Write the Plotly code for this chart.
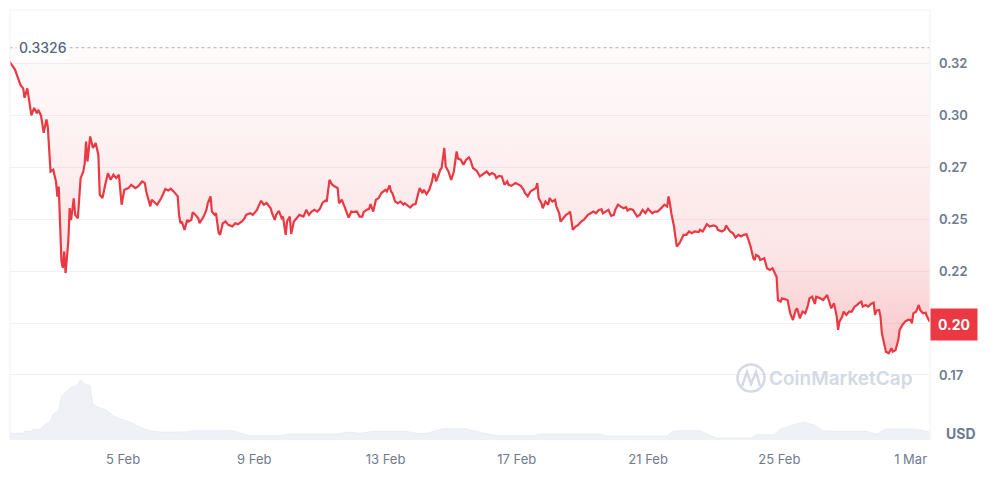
import pandas as pd
import plotly.graph_objects as go

# ---- data ----
start = pd.Timestamp("2025-02-01 00:00")

price_hours = [13, 17, 21, 23, 24, 26, 29, 31, 33, 34, 36, 38, 40, 41, 43, 45, 47, 48, 49, 51, 52, 53, 54, 56, 57, 58, 60, 61, 63, 65, 67, 68, 69, 70, 72, 74, 76, 78, 79, 81, 83, 85, 87, 89, 91, 93, 95, 97, 100, 102, 105, 107, 110, 112, 113, 116, 117, 121, 124, 127, 129, 131, 133, 135, 136, 137, 138, 139, 141, 143, 144, 146, 147, 149, 151, 152, 155, 157, 158, 160, 161, 163, 164, 166, 167, 169, 171, 173, 176, 178, 180, 183, 185, 186, 189, 191, 194, 195, 197, 199, 201, 204, 205, 207, 208, 210, 212, 213, 215, 216, 218, 219, 221, 223, 225, 228, 230, 232, 234, 236, 238, 240, 242, 244, 245, 247, 249, 251, 253, 254, 256, 258, 260, 261, 263, 264, 267, 269, 271, 272, 274, 276, 277, 279, 281, 283, 285, 288, 289, 291, 292, 293, 295, 297, 299, 301, 302, 304, 306, 308, 310, 312, 313, 315, 316, 318, 320, 322, 323, 324, 325, 327, 328, 329, 331, 332, 334, 336, 338, 340, 341, 343, 345, 347, 349, 350, 352, 353, 355, 357, 359, 362, 364, 366, 368, 369, 371, 373, 375, 377, 378, 380, 383, 385, 387, 389, 390, 392, 394, 396, 398, 399, 400, 402, 403, 405, 407, 408, 410, 412, 413, 415, 416, 418, 420, 422, 423, 425, 427, 429, 431, 433, 434, 436, 438, 440, 442, 444, 446, 447, 449, 451, 453, 455, 456, 458, 460, 462, 464, 465, 467, 469, 472, 474, 476, 478, 480, 483, 485, 487, 490, 492, 494, 495, 496, 497, 499, 500, 501, 503, 505, 506, 508, 510, 512, 514, 517, 518, 520, 522, 523, 525, 528, 530, 531, 534, 536, 537, 539, 540, 542, 544, 546, 548, 550, 552, 553, 555, 557, 558, 559, 561, 562, 564, 565, 567, 569, 571, 573, 574, 575, 577, 578, 580, 582, 584, 585, 586, 588, 589, 591, 593, 595, 597, 598, 600, 602, 603, 606, 608, 611, 612, 614, 616, 618, 619, 620, 622, 623, 625, 627, 629, 631, 633, 634, 636, 637, 639, 641, 643, 645, 646, 647, 649, 650, 651, 653, 654, 656, 658, 659, 661, 663, 664, 666, 668, 670, 672, 673, 674, 676, 678, 679, 681, 683, 684, 686]

price_usd = [0.3259, 0.3221, 0.3147, 0.3130, 0.3085, 0.3130, 0.3000, 0.3036, 0.3010, 0.3027, 0.3000, 0.2916, 0.2980, 0.2946, 0.2730, 0.2738, 0.2681, 0.2609, 0.2657, 0.2296, 0.2266, 0.2344, 0.2241, 0.2392, 0.2554, 0.2496, 0.2601, 0.2521, 0.2505, 0.2698, 0.2730, 0.2770, 0.2874, 0.2778, 0.2899, 0.2843, 0.2867, 0.2810, 0.2618, 0.2602, 0.2666, 0.2722, 0.2690, 0.2714, 0.2698, 0.2714, 0.2570, 0.2642, 0.2650, 0.2666, 0.2650, 0.2658, 0.2682, 0.2674, 0.2634, 0.2562, 0.2594, 0.2570, 0.2602, 0.2645, 0.2638, 0.2647, 0.2634, 0.2618, 0.2610, 0.2521, 0.2481, 0.2489, 0.2449, 0.2497, 0.2489, 0.2497, 0.2534, 0.2521, 0.2505, 0.2481, 0.2513, 0.2545, 0.2577, 0.2610, 0.2537, 0.2521, 0.2529, 0.2433, 0.2425, 0.2481, 0.2489, 0.2473, 0.2465, 0.2481, 0.2476, 0.2489, 0.2505, 0.2521, 0.2529, 0.2521, 0.2545, 0.2561, 0.2589, 0.2570, 0.2578, 0.2553, 0.2529, 0.2497, 0.2521, 0.2540, 0.2505, 0.2513, 0.2425, 0.2489, 0.2513, 0.2429, 0.2489, 0.2505, 0.2521, 0.2513, 0.2545, 0.2521, 0.2537, 0.2545, 0.2537, 0.2550, 0.2580, 0.2590, 0.2585, 0.2690, 0.2666, 0.2658, 0.2650, 0.2577, 0.2594, 0.2561, 0.2521, 0.2508, 0.2537, 0.2534, 0.2537, 0.2513, 0.2513, 0.2534, 0.2545, 0.2550, 0.2573, 0.2537, 0.2594, 0.2602, 0.2626, 0.2642, 0.2634, 0.2663, 0.2634, 0.2626, 0.2585, 0.2577, 0.2585, 0.2570, 0.2577, 0.2566, 0.2556, 0.2570, 0.2573, 0.2626, 0.2650, 0.2626, 0.2642, 0.2621, 0.2642, 0.2682, 0.2717, 0.2714, 0.2682, 0.2717, 0.2738, 0.2746, 0.2843, 0.2754, 0.2730, 0.2690, 0.2730, 0.2827, 0.2792, 0.2787, 0.2763, 0.2787, 0.2798, 0.2787, 0.2746, 0.2742, 0.2730, 0.2706, 0.2714, 0.2730, 0.2714, 0.2722, 0.2714, 0.2698, 0.2709, 0.2706, 0.2666, 0.2682, 0.2666, 0.2661, 0.2674, 0.2666, 0.2661, 0.2642, 0.2626, 0.2610, 0.2634, 0.2642, 0.2650, 0.2674, 0.2602, 0.2577, 0.2553, 0.2585, 0.2570, 0.2602, 0.2585, 0.2594, 0.2561, 0.2529, 0.2489, 0.2505, 0.2521, 0.2529, 0.2537, 0.2449, 0.2465, 0.2473, 0.2489, 0.2497, 0.2505, 0.2521, 0.2529, 0.2537, 0.2529, 0.2545, 0.2548, 0.2529, 0.2537, 0.2545, 0.2516, 0.2521, 0.2545, 0.2570, 0.2561, 0.2553, 0.2558, 0.2542, 0.2550, 0.2545, 0.2513, 0.2521, 0.2545, 0.2529, 0.2550, 0.2529, 0.2537, 0.2537, 0.2556, 0.2570, 0.2561, 0.2610, 0.2577, 0.2529, 0.2465, 0.2425, 0.2368, 0.2385, 0.2409, 0.2425, 0.2425, 0.2441, 0.2433, 0.2441, 0.2438, 0.2449, 0.2441, 0.2465, 0.2476, 0.2465, 0.2470, 0.2465, 0.2449, 0.2441, 0.2449, 0.2470, 0.2449, 0.2441, 0.2433, 0.2412, 0.2425, 0.2417, 0.2425, 0.2428, 0.2409, 0.2368, 0.2312, 0.2304, 0.2328, 0.2320, 0.2304, 0.2312, 0.2312, 0.2264, 0.2256, 0.2264, 0.2232, 0.2223, 0.2111, 0.2103, 0.2119, 0.2115, 0.2111, 0.2047, 0.2031, 0.2015, 0.2063, 0.2071, 0.2023, 0.2055, 0.2047, 0.2087, 0.2119, 0.2127, 0.2092, 0.2127, 0.2119, 0.2111, 0.2135, 0.2111, 0.2071, 0.2095, 0.2031, 0.1967, 0.2007, 0.2031, 0.2055, 0.2039, 0.2055, 0.2055, 0.2079, 0.2087, 0.2095, 0.2103, 0.2079, 0.2087, 0.2079, 0.2092, 0.2098, 0.2039, 0.2060, 0.2063, 0.2031, 0.1951, 0.1895, 0.1862, 0.1855, 0.1879, 0.1862, 0.1870, 0.1918, 0.1967, 0.1991, 0.2007, 0.2015, 0.2015, 0.1999, 0.2047, 0.2055, 0.2087, 0.2063, 0.2047, 0.2050, 0.2031, 0.2007]

volume_hours = [13, 23, 24, 29, 30, 35, 38, 43, 45, 49, 51, 55, 58, 62, 65, 68, 72, 74, 78, 84, 89, 94, 99, 104, 108, 113, 118, 123, 133, 138, 143, 147, 177, 182, 189, 211, 216, 250, 262, 269, 279, 303, 311, 318, 323, 330, 347, 352, 360, 372, 396, 401, 445, 450, 494, 498, 503, 518, 528, 530, 555, 559, 572, 577, 586, 594, 601, 608, 615, 640, 647, 654, 676, 684, 686]
volume_musd = [6.7, 6.7, 8.7, 8.7, 10.7, 10.7, 14.3, 19.3, 26, 29, 44, 49, 52.7, 54.3, 60, 56, 54.3, 36, 32.7, 30, 24.3, 21, 19.3, 16, 13.3, 10.3, 8.7, 8, 8, 8.3, 8.3, 9.3, 9.3, 6.7, 4.3, 4.3, 6, 6, 8, 6.7, 8.7, 8.7, 6.7, 6.7, 8.7, 11.3, 11.3, 9.3, 6.7, 4.3, 4.3, 6, 6, 4, 4, 8.7, 9.3, 9.3, 3.3, 2, 2, 5.3, 5.3, 11, 15.3, 17.7, 15.3, 9.3, 8.7, 8.7, 6, 11, 11, 8.7, 8]

all_time_ref = 0.3326
last_price_label = "0.20"
tick_vals = [0.175, 0.2, 0.225, 0.25, 0.275, 0.3, 0.325]
tick_text = ["0.17", "", "0.22", "0.25", "0.27", "0.30", "0.32"]  # 0.20 shown in the badge
date_ticks_start = "2025-02-01"

# ---- build ----
price_t = [start + pd.Timedelta(hours=h) for h in price_hours]
vol_t = [start + pd.Timedelta(hours=h) for h in volume_hours]

RED = "#ea3943"
GRAY = "#58667e"
TICK = "#6f7a8e"
FONT = "Inter, Roboto, sans-serif"

fig = go.Figure()

# volume area (bottom)
fig.add_trace(go.Scatter(
    x=vol_t, y=volume_musd, yaxis="y2", mode="lines",
    line=dict(width=0.5, color="rgba(220,225,234,0.9)"),
    fill="tozeroy", fillcolor="rgba(226,230,238,0.55)",
    hoverinfo="skip", showlegend=False,
))

# reference (top) line used as fill boundary
fig.add_trace(go.Scatter(
    x=[price_t[0], price_t[-1]], y=[all_time_ref, all_time_ref],
    mode="lines", line=dict(width=1, color="#a6b0c3", dash="dot"),
    hoverinfo="skip", showlegend=False,
))

# price line with gradient fill up to reference
fig.add_trace(go.Scatter(
    x=price_t, y=price_usd, mode="lines",
    line=dict(color=RED, width=2.2),
    fill="tonexty",
    fillgradient=dict(
        type="vertical",
        start=0.18, stop=all_time_ref,
        colorscale=[[0, "rgba(234,57,67,0.30)"],
                    [0.35, "rgba(234,57,67,0.13)"],
                    [1, "rgba(234,57,67,0.02)"]],
    ),
    showlegend=False,
))

x_lo = start + pd.Timedelta(hours=13.36)
x_hi = start + pd.Timedelta(hours=686.2)

fig.update_layout(
    width=1002, height=478,
    margin=dict(l=10, r=72, t=10, b=38, autoexpand=False),
    paper_bgcolor="white", plot_bgcolor="white",
    font=dict(family=FONT, color=GRAY),
    xaxis=dict(
        type="date", range=[x_lo, x_hi],
        tick0=date_ticks_start, dtick=4 * 86400000,
        tickformat="%-d %b", showgrid=False, zeroline=False,
        ticks="", ticklabelstandoff=10,
        tickfont=dict(size=13, color=TICK, family=FONT),
        showline=False,
    ),
    yaxis=dict(
        side="right", range=[0.14369, 0.35077],
        tickvals=tick_vals, ticktext=tick_text,
        showgrid=True, gridcolor="#eff2f5", gridwidth=1,
        zeroline=False, ticks="", ticklabelstandoff=8,
        tickfont=dict(size=13, color=TICK, family=FONT, weight=600),
    ),
    yaxis2=dict(
        overlaying="y", range=[0, 430], visible=False,
    ),
    hovermode=False,
)

# frame lines (left, right, top)
fig.add_shape(type="line", xref="paper", yref="paper", x0=0, x1=0, y0=0, y1=1,
              line=dict(color="#eff2f5", width=1))
fig.add_shape(type="line", xref="paper", yref="paper", x0=1, x1=1, y0=0, y1=1,
              line=dict(color="#eff2f5", width=1))
fig.add_shape(type="line", xref="paper", yref="paper", x0=0, x1=1, y0=1, y1=1,
              line=dict(color="#eff2f5", width=1))

# reference label
fig.add_annotation(x=0.007, xref="paper", y=all_time_ref, yref="y",
                   text="0.3326", showarrow=False, xanchor="left", yanchor="middle",
                   bgcolor="white", borderpad=2,
                   font=dict(size=14, color=GRAY, family=FONT, weight=500))

# last price badge
fig.add_annotation(x=1.0, xref="paper", y=price_usd[-1] - 0.0012, yref="y",
                   text="<b>" + last_price_label + "</b>", showarrow=False,
                   xanchor="left", yanchor="middle", bgcolor=RED, borderpad=7,
                   font=dict(size=14, color="white", family=FONT))

# currency label
fig.add_annotation(x=1.0, xref="paper", y=0.015, yref="paper",
                   text="<b>USD</b>", showarrow=False, xanchor="left", yanchor="middle",
                   xshift=14, font=dict(size=14, color=TICK, family=FONT))

# watermark
def px(xp, yp):
    return (xp - 10) / 920, (440 - yp) / 430

WM = "#d3d9e5"
cx0, cy0 = px(737.5, 391.5)
cx1, cy1 = px(764.5, 364.5)
fig.add_shape(type="circle", xref="paper", yref="paper",
              x0=cx0, y0=cy0, x1=cx1, y1=cy1, line=dict(color=WM, width=2.5))
pts = [px(742, 386), px(747, 372), px(751, 384), px(756, 372), px(760, 386)]
path = "M " + " L ".join(f"{a:.4f},{b:.4f}" for a, b in pts)
fig.add_shape(type="path", xref="paper", yref="paper", path=path,
              line=dict(color=WM, width=2.5))
tx, ty = px(841, 378)
fig.add_annotation(x=tx, y=ty, xref="paper", yref="paper", text="CoinMarketCap",
                   showarrow=False, xanchor="center", yanchor="middle",
                   font=dict(size=19, color=WM, family=FONT, weight=600))

fig.write_html(
    "out.html",
    config={"displayModeBar": False, "staticPlot": True},
    post_script="document.body.style.margin='0';document.body.style.overflow='hidden';",
)
